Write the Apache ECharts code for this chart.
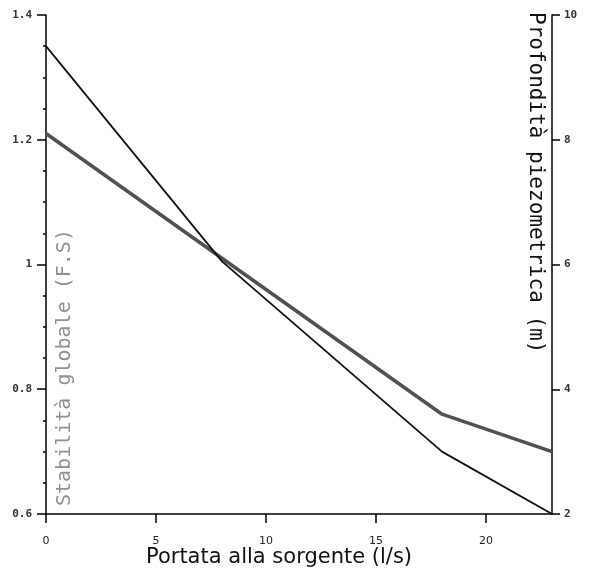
<!DOCTYPE html>
<html>
<head>
<meta charset="utf-8">
<script src="https://cdn.jsdelivr.net/npm/echarts@6/dist/echarts.min.js"></script>
<style>
html,body{margin:0;padding:0;background:#fff;}
#c{width:589px;height:574px;}
</style>
</head>
<body>
<div id="c"></div>
<script>
// Data
const portata = [0, 18, 23];                 // l/s (gray series x)
const stabilita = [1.21, 0.76, 0.70];        // F.S (left axis)
const portataProf = [0, 8, 18, 23];          // l/s (black series x)
const profondita = [9.5, 6.05, 3.0, 2.0];    // m (right axis)
const xTicks = [0, 5, 10, 15, 20];
const leftLabels = ['0.6', '0.8', '1', '1.2', '1.4'];
const rightLabels = ['2', '4', '6', '8', '10'];

const chart = echarts.init(document.getElementById('c'));
const numLbl = {fontFamily: 'DejaVu Sans Mono', fontWeight: 'bold', fontSize: 11, color: '#333'};
chart.setOption({
  animation: false,
  backgroundColor: '#fff',
  grid: {left: 46, right: 37, top: 15, bottom: 60},
  xAxis: {
    type: 'value', min: 0, max: 23, interval: 5,
    axisLine: {show: true, lineStyle: {color: '#000', width: 1.5}},
    axisTick: {show: true, length: 9, customValues: xTicks, lineStyle: {color: '#000', width: 1.5}},
    axisLabel: {customValues: xTicks, margin: 22, fontFamily: 'DejaVu Sans', fontSize: 11, color: '#222'},
    splitLine: {show: false}
  },
  yAxis: [{
    type: 'value', min: 0.6, max: 1.4, interval: 0.2, position: 'left',
    axisLine: {show: true, onZero: false, lineStyle: {color: '#000', width: 1.5}},
    axisTick: {show: true, length: 9, lineStyle: {color: '#000', width: 1.5}},
    minorTick: {show: true, splitNumber: 4, length: 3, lineStyle: {color: '#000', width: 1.5}},
    axisLabel: Object.assign({margin: 14, formatter: v => leftLabels[Math.round((v - 0.6) / 0.2)]}, numLbl),
    splitLine: {show: false}
  }, {
    type: 'value', min: 2, max: 10, interval: 2, position: 'right',
    axisLine: {show: true, onZero: false, lineStyle: {color: '#000', width: 1.5}},
    axisTick: {show: true, length: 8, lineStyle: {color: '#000', width: 1.5}},
    axisLabel: Object.assign({margin: 12, formatter: v => rightLabels[Math.round((v - 2) / 2)]}, numLbl),
    splitLine: {show: false}
  }],
  series: [{
    type: 'line', yAxisIndex: 0, symbol: 'none',
    data: portata.map((x, i) => [x, stabilita[i]]),
    lineStyle: {color: '#505050', width: 3.5}
  }, {
    type: 'line', yAxisIndex: 1, symbol: 'none',
    data: portataProf.map((x, i) => [x, profondita[i]]),
    lineStyle: {color: '#111', width: 1.8}
  }],
  graphic: [{
    type: 'text', x: 55, y: 506, rotation: Math.PI / 2,
    style: {text: 'Stabilità globale (F.S)', fontFamily: 'DejaVu Sans Mono', fontSize: 20, fill: '#8f8f8f', textVerticalAlign: 'top'}
  }, {
    type: 'text', x: 546, y: 12, rotation: -Math.PI / 2,
    style: {text: 'Profondità piezometrica (m)', fontFamily: 'DejaVu Sans Mono', fontSize: 21, fill: '#111', textVerticalAlign: 'top'}
  }, {
    type: 'text', x: 279, y: 558,
    style: {text: 'Portata alla sorgente (l/s)', fontFamily: 'DejaVu Sans', fontSize: 21, fill: '#111', textAlign: 'center', textVerticalAlign: 'middle'}
  }]
});
</script>
</body>
</html>
